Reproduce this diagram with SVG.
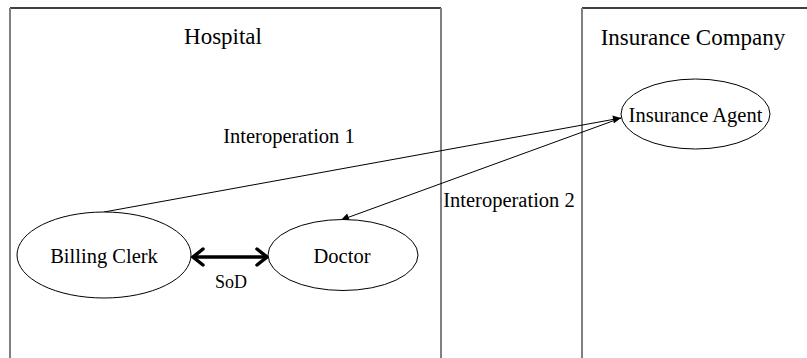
<svg xmlns="http://www.w3.org/2000/svg" width="807" height="358" viewBox="0 0 807 358">
<defs>
<style>
.t{font-family:"Liberation Serif","Times New Roman",serif;fill:#000;text-anchor:middle}
.side{stroke:#808080;stroke-width:2;fill:none}
.top{stroke:#000;stroke-width:1.3;fill:none}
.node{fill:#fff;stroke:#000;stroke-width:1}
.edge{stroke:#000;stroke-width:1;fill:none}
</style>
<marker id="ah" viewBox="0 0 10 10" refX="10" refY="5" markerWidth="10" markerHeight="8" markerUnits="userSpaceOnUse" orient="auto">
<path d="M0,0 L10,5 L0,10 z" fill="#000"/>
</marker>
</defs>
<rect width="807" height="358" fill="#fff"/>
<g id="hospital">
<path class="top" d="M10,8 H441"/>
<path class="side" d="M10,8 V358 M441,8 V358"/>
<text class="t" x="223" y="44" font-size="23">Hospital</text>
</g>
<g id="insurance-company">
<path class="top" d="M582,8 H807"/>
<path class="side" d="M582,8 V358"/>
<text class="t" x="693" y="45" font-size="23">Insurance Company</text>
</g>
<g id="connectors">
<path class="edge" d="M104,212 L621,118" marker-end="url(#ah)"/>
<path class="edge" d="M621,118 L341,220" marker-end="url(#ah)"/>
<g id="sod">
<path d="M194,257 H266" stroke="#000" stroke-width="3.5" fill="none"/>
<path d="M203,249 L193,257 L203,265 M257,249 L267,257 L257,265" stroke="#000" stroke-width="3.5" fill="none" stroke-linecap="round" stroke-linejoin="miter"/>
<text class="t" x="231" y="288" font-size="18">SoD</text>
</g>
<text class="t" x="289" y="143" font-size="20.5">Interoperation 1</text>
<text class="t" x="509" y="207" font-size="20.5">Interoperation 2</text>
</g>
<g id="billing-clerk">
<ellipse class="node" cx="104" cy="255" rx="87" ry="43"/>
<text class="t" x="104" y="263" font-size="20.5">Billing Clerk</text>
</g>
<g id="doctor">
<ellipse class="node" cx="343" cy="255" rx="75" ry="35.5"/>
<text class="t" x="342" y="263" font-size="20.5">Doctor</text>
</g>
<g id="insurance-agent">
<ellipse class="node" cx="695.5" cy="114" rx="74.5" ry="35"/>
<text class="t" x="695.5" y="122" font-size="20.5">Insurance Agent</text>
</g>
</svg>
